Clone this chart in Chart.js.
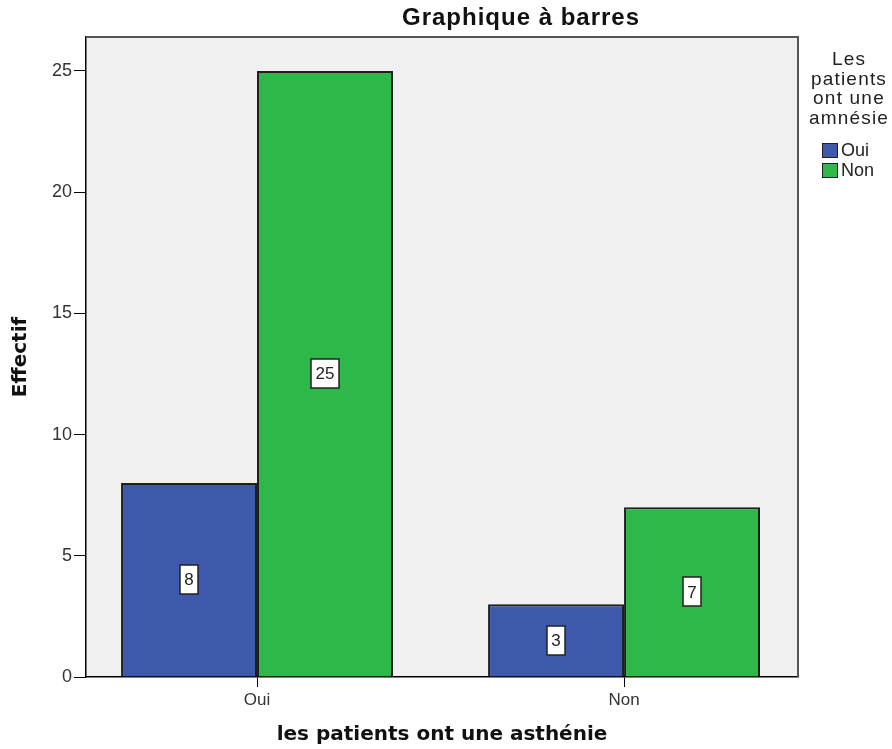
<!DOCTYPE html>
<html>
<head>
<meta charset="utf-8">
<script src="https://cdn.jsdelivr.net/npm/chart.js@4"></script>
<style>
  body { margin: 0; background: #fff; }
  #wrap { width: 892px; height: 749px; }
</style>
</head>
<body>
<div id="wrap"><canvas id="grafico" width="892" height="749"></canvas></div>
<script>
// données
const categories = ["Oui", "Non"];
const serieOui = [8, 3];
const serieNon = [25, 7];
const seriesNames = ["Oui", "Non"];
const yTicks = [0, 5, 10, 15, 20, 25];
const legendTitle = ["Les", "patients", "ont une", "amnésie"];

const SANS = "'Liberation Sans', Arial, sans-serif";
const BOLD = "'DejaVu Sans', Verdana, sans-serif";

const ctx = document.getElementById("grafico").getContext("2d");

// fond gris de la zone + cadre haut/droite
const fondPlugin = {
  id: "fond",
  beforeDraw(chart) {
    const a = chart.chartArea;
    const c = chart.ctx;
    c.save();
    c.fillStyle = "#f0f0f0";
    c.fillRect(a.left, a.top, a.right - a.left, a.bottom - a.top);
    c.restore();
  },
  afterDraw(chart) {
    const a = chart.chartArea;
    const c = chart.ctx;
    c.save();
    c.strokeStyle = "#555";
    c.lineWidth = 2;
    c.beginPath();
    c.moveTo(a.left, a.top);
    c.lineTo(a.right, a.top);
    c.lineTo(a.right, a.bottom);
    c.stroke();

    // titre
    c.fillStyle = "#111";
    c.font = "bold 24px " + SANS;
    c.letterSpacing = "1px";
    c.textAlign = "center";
    c.textBaseline = "middle";
    c.fillText("Graphique à barres", 521, 18);

    // légende
    c.font = "19px " + SANS;
    c.letterSpacing = "1.2px";
    c.fillStyle = "#222";
    legendTitle.forEach((t, i) => c.fillText(t, 849, 60 + i * 19.5));
    c.letterSpacing = "0px";
    c.font = "18px " + SANS;
    c.textAlign = "left";
    chart.data.datasets.forEach((ds, i) => {
      const y = 143 + i * 20;
      c.fillStyle = ds.backgroundColor;
      c.fillRect(822, y, 16, 15);
      c.strokeStyle = "#222";
      c.lineWidth = 1;
      c.strokeRect(822.5, y + 0.5, 15, 14);
      c.fillStyle = "#222";
      c.fillText(ds.label, 841, y + 8);
    });
    c.restore();
  }
};

// étiquettes de valeur au milieu des barres
const etiquettesPlugin = {
  id: "etiquettes",
  afterDatasetsDraw(chart) {
    const c = chart.ctx;
    c.save();
    c.font = "17px " + SANS;
    c.textAlign = "center";
    c.textBaseline = "middle";
    chart.data.datasets.forEach((ds, i) => {
      chart.getDatasetMeta(i).data.forEach((bar, j) => {
        const txt = String(ds.data[j].y);
        const w = c.measureText(txt).width + 9;
        const h = 29;
        const x = bar.x;
        const y = (bar.y + bar.base) / 2;
        c.fillStyle = "#fff";
        c.fillRect(Math.round(x - w / 2), Math.round(y - h / 2), Math.round(w), h);
        c.strokeStyle = "#222";
        c.lineWidth = 1.5;
        c.strokeRect(Math.round(x - w / 2), Math.round(y - h / 2), Math.round(w), h);
        c.fillStyle = "#222";
        c.fillText(txt, x, y + 1);
      });
    });
    c.restore();
  }
};

const chart = new Chart(ctx, {
  type: "bar",
  data: {
    datasets: [
      {
        label: seriesNames[0],
        data: categories.map((c, i) => ({ x: i, y: serieOui[i] })),
        backgroundColor: "#3e58ab",
        borderColor: "#1e1e1e",
        borderWidth: 2
      },
      {
        label: seriesNames[1],
        data: categories.map((c, i) => ({ x: i, y: serieNon[i] })),
        backgroundColor: "#2fb84a",
        borderColor: "#1e1e1e",
        borderWidth: 2
      }
    ]
  },
  options: {
    responsive: false,
    animation: false,
    layout: { padding: { top: 37, right: 94, left: 0, bottom: 0 } },
    categoryPercentage: 0.741,
    barPercentage: 1,
    plugins: {
      legend: { display: false },
      title: { display: false },
      tooltip: { enabled: false }
    },
    scales: {
      x: {
        type: "linear",
        offset: false,
        min: -0.466,
        max: 1.474,
        afterBuildTicks(scale) {
          scale.ticks = categories.map((c, i) => ({ value: i }));
        },
        afterFit(scale) { scale.height = 72; },
        ticks: {
          padding: 3,
          color: "#333",
          font: { family: SANS, size: 17 },
          callback: (v) => categories[v]
        },
        grid: { offset: false, drawOnChartArea: false, drawTicks: true, tickLength: 10, color: "#000" },
        border: { display: true, color: "#000", width: 1.5 },
        title: {
          display: true,
          text: "les patients ont une asthénie",
          color: "#111",
          font: { family: BOLD, size: 20, weight: "bold" },
          padding: { top: 0, bottom: 2 }
        }
      },
      y: {
        min: 0,
        max: 26.4,
        afterBuildTicks(scale) {
          scale.ticks = yTicks.map(v => ({ value: v }));
        },
        afterFit(scale) { scale.width = 86; },
        ticks: {
          padding: 2,
          color: "#333",
          font: { family: SANS, size: 18 }
        },
        grid: { drawOnChartArea: false, drawTicks: true, tickLength: 12, color: "#000" },
        border: { display: true, color: "#000", width: 1.5 },
        title: {
          display: true,
          text: "Effectif",
          color: "#111",
          font: { family: BOLD, size: 20, weight: "bold" },
          padding: { top: 9, bottom: 0 }
        }
      }
    }
  },
  plugins: [fondPlugin, etiquettesPlugin]
});
</script>
</body>
</html>
